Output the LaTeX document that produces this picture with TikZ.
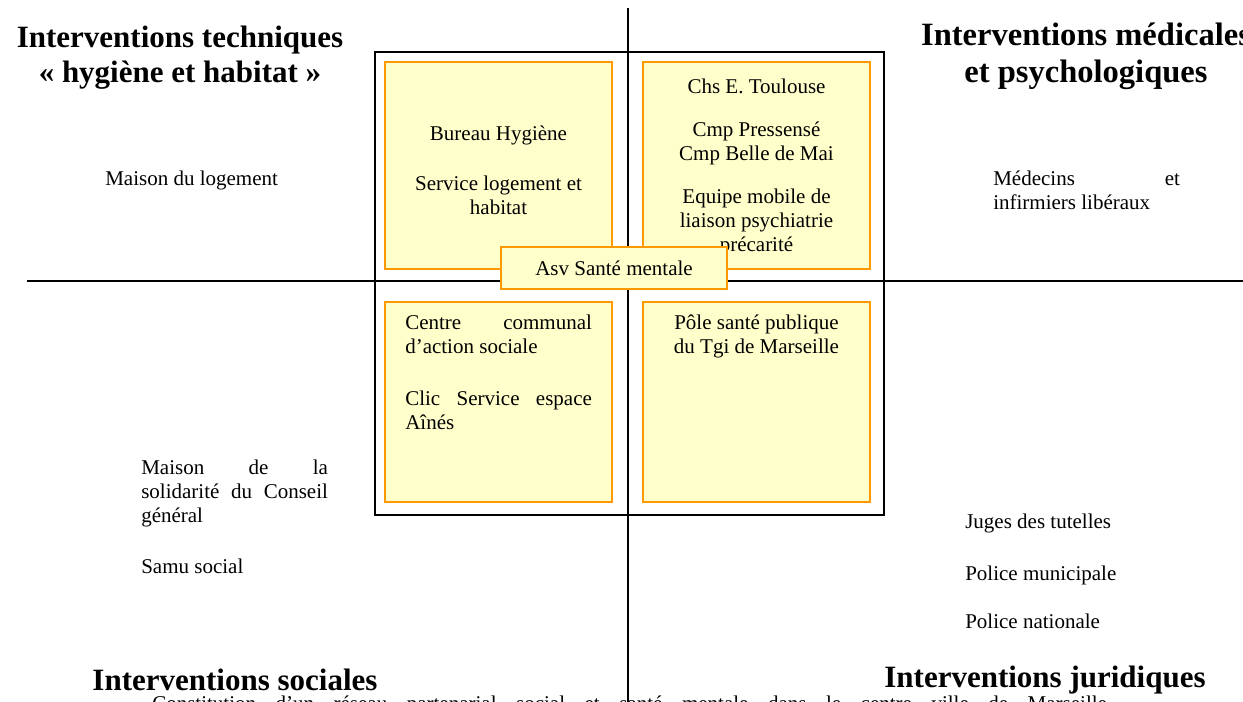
\documentclass[tikz,border=0pt]{standalone}
\usepackage{fontspec}
\setmainfont{Liberation Serif}
\usepackage{xcolor}
\definecolor{fondjaune}{HTML}{FFFFCC}
\definecolor{bordorange}{HTML}{FF9900}
\usepackage{tikz}
\usetikzlibrary{positioning}
\hyphenpenalty=10000
\tolerance=9999

\begin{document}
\begin{tikzpicture}[x=0.75pt, y=-0.75pt,
  corps/.style={font=\fontsize{15.75}{18}\selectfont, inner sep=0pt},
  titre/.style={font=\fontsize{23.25}{26.25}\selectfont\bfseries, inner sep=0pt, align=center},
  pole/.style={corps, draw=bordorange, fill=fondjaune, line width=1.3pt, align=center,
    minimum width=170.25pt},
  bloc/.style={corps, text width=140pt, align=justify},
  axe/.style={line width=1.1pt}]
  \useasboundingbox (0,0) rectangle (1243,702);
  % axes
  \coordinate (nord) at (628,8);
  \coordinate (sud) at (628,702);
  \coordinate (ouest) at (27,281);
  \coordinate (est) at (1243,281);
  \draw[axe] (nord) -- (sud);
  \draw[axe] (ouest) -- (est);
  % cadre
  \draw[axe] (375,52) rectangle (884,515);
  % les quatre poles
  \node[pole, minimum height=155.25pt] (hyg) at (498.5,165.5) {};
  \node[pole, minimum height=155.25pt] (psy) at (756.5,165.5) {};
  \node[pole, minimum height=150pt] (soc) at (498.5,402) {};
  \node[pole, minimum height=150pt] (jur) at (756.5,402) {};
  \node[corps, align=center] (hygtxt) at (498.5,170.5)
    {Bureau Hygiène\\[19.5pt]Service logement et\\habitat};
  \node[corps, align=center] (psytxt) at (756.5,167.5)
    {Chs E. Toulouse\\[14.5pt]Cmp Pressensé\\Cmp Belle de Mai\\[14.5pt]Equipe mobile de\\liaison psychiatrie\\précarité};
  \node[bloc, anchor=north west] (ccas) at (405,315)
    {Centre communal d’action sociale\par\vspace{21pt}Clic Service espace Aînés};
  \node[corps, anchor=north, align=center] (tgi) at (756.5,315)
    {Pôle santé publique\\du Tgi de Marseille};
  \node[pole, minimum width=169.5pt, minimum height=31.5pt] (asv) at (614,268) {Asv Santé mentale};
  % titres des quadrants
  \node[titre, anchor=north] (ttech) at (180,26)
    {Interventions techniques\\« hygiène et habitat »};
  \node[titre, anchor=north, font=\fontsize{24.4}{27.5}\selectfont\bfseries] (tmed) at (1086,23)
    {Interventions médicales\\et psychologiques};
  \node[titre, anchor=base] (tsoc) at (235,690) {Interventions sociales};
  \node[titre, anchor=base] (tjur) at (1045,687) {Interventions juridiques};
  % acteurs hors cadre
  \node[corps, anchor=base west] (logement) at (105,186) {Maison du logement};
  \node[bloc, anchor=north west] (medecins) at (993,171)
    {Médecins et\linebreak infirmiers libéraux};
  \node[bloc, anchor=north west] (solidarite) at (141,460)
    {Maison de la\linebreak solidarité du Conseil\linebreak général};
  \node[corps, anchor=base west] (samu) at (141,573) {Samu social};
  \node[corps, anchor=base west] (juges) at (965,528) {Juges des tutelles};
  \node[corps, anchor=base west] (pmun) at (965,580) {Police municipale};
  \node[corps, anchor=base west] (pnat) at (965,628) {Police nationale};
  % legende coupee en bas
  \node[corps, anchor=base west] (legende) at (152,710)
    {\makebox[716pt][s]{Constitution d’un réseau partenarial social et santé mentale dans le centre ville de Marseille}};
\end{tikzpicture}
\end{document}
